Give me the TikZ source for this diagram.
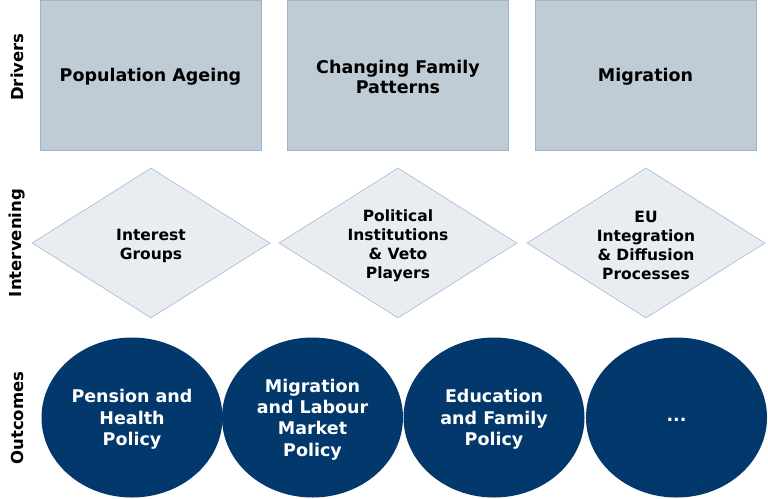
\documentclass[tikz,border=0pt]{standalone}
\usepackage{fontspec}
\setmainfont{DejaVu Sans}
\usetikzlibrary{shapes.geometric}
\definecolor{boxfill}{HTML}{BFCBD5}
\definecolor{boxline}{HTML}{9DB4CD}
\definecolor{diafill}{HTML}{E9EDF1}
\definecolor{dialine}{HTML}{A9C1DA}
\definecolor{navy}{HTML}{02386B}
\tikzset{
  driverbox/.style={rectangle, draw=boxline, fill=boxfill, line width=0.8pt,
    minimum width=221pt, minimum height=150pt, inner sep=0pt},
  drivertext/.style={font=\fontsize{17.5}{20.5}\selectfont\bfseries, align=center, inner sep=0pt},
  intervbox/.style={diamond, draw=dialine, fill=diafill, line width=0.7pt,
    minimum width=238pt, minimum height=150pt, aspect=1.587, inner sep=0pt},
  intervtext/.style={font=\fontsize{15.5}{19}\selectfont\bfseries, align=center, inner sep=0pt},
  outcomebox/.style={ellipse, fill=navy, draw=none,
    minimum width=181pt, minimum height=160pt, inner sep=0pt},
  outcometext/.style={font=\fontsize{17.5}{21.3}\selectfont\bfseries, align=center, text=white, inner sep=0pt},
  rowlabel/.style={rotate=90, font=\fontsize{16.5}{19}\selectfont\bfseries, inner sep=0pt}
}
\begin{document}
\begin{tikzpicture}[x=1pt,y=-1pt]
\useasboundingbox (0,0) rectangle (768,498);
% Drivers
\node[driverbox] (d1) at (150.5,75) {};
\node[driverbox] (d2) at (398,75) {};
\node[driverbox] (d3) at (645.5,75) {};
\node[drivertext] (s1) at ([yshift=-2pt]d1.center) {Population Ageing};
\node[drivertext] (s2) at ([yshift=-2pt]d2.center) {Changing Family\\Patterns};
\node[drivertext] (s3) at ([yshift=-2pt]d3.center) {Migration};
% Intervening
\node[intervbox] (i1) at (151,243) {};
\node[intervbox] (i2) at (398,243) {};
\node[intervbox] (i3) at (646,243) {};
\node[intervtext] (t1) at ([yshift=-2.5pt]i1.center) {Interest\\Groups};
\node[intervtext] (t2) at ([yshift=-2.5pt]i2.center) {Political\\Institutions\\\& Veto\\Players};
\node[intervtext] (t3) at ([yshift=-2.5pt]i3.center) {EU\\Integration\\\& Diffusion\\Processes};
% Outcomes
\node[outcomebox] (o1) at (132,417.5) {};
\node[outcomebox] (o2) at (312.5,417.5) {};
\node[outcomebox] (o3) at (494,417.5) {};
\node[outcomebox] (o4) at (676.5,417.5) {};
\node[outcometext] (u1) at ([yshift=-2pt]o1.center) {Pension and\\Health\\Policy};
\node[outcometext] (u2) at ([yshift=-2pt]o2.center) {Migration\\and Labour\\Market\\Policy};
\node[outcometext] (u3) at ([yshift=-2pt]o3.center) {Education\\and Family\\Policy};
\node[outcometext] (u4) at ([yshift=-2pt]o4.center) {...};
% Row labels
\node[rowlabel] (l1) at (17,67) {Drivers};
\node[rowlabel] (l2) at (17,243) {Intervening};
\node[rowlabel] (l3) at (17,418) {Outcomes};
\end{tikzpicture}
\end{document}
